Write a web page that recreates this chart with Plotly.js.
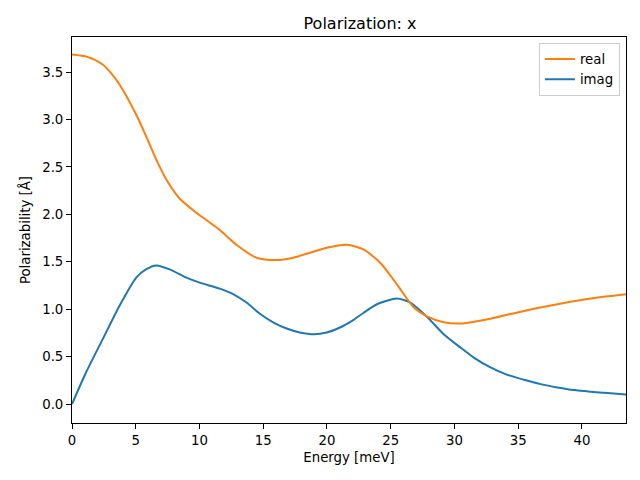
<!DOCTYPE html>
<html>
<head>
<meta charset="utf-8">
<script src="https://cdn.plot.ly/plotly-3.0.1.min.js"></script>
<style>html,body{margin:0;padding:0;background:#fff;}</style>
</head>
<body>
<div id="chart" style="width:640px;height:480px;"></div>
<script>
const realEnergy = [0, 1.2, 2.41, 3.3, 3.98, 5.04, 5.82, 6.61, 7.40, 8.44, 9.76, 11.59, 12.90, 14.48, 16.05, 17.36, 18.67, 19.98, 21.56, 22.86, 24.18, 25.49, 26.80, 27.85, 29.16, 30.47, 32.83, 35.45, 38.08, 40.70, 43.46];
const realValues = [3.685, 3.66, 3.58, 3.45, 3.314, 3.05, 2.822, 2.577, 2.367, 2.167, 2.017, 1.835, 1.68, 1.543, 1.518, 1.543, 1.595, 1.648, 1.68, 1.63, 1.49, 1.262, 1.02, 0.925, 0.862, 0.849, 0.90, 0.982, 1.052, 1.112, 1.157];
const imagEnergy = [0, 1.10, 2.41, 3.72, 5.04, 5.8, 6.61, 7.66, 8.97, 10.02, 11.59, 12.64, 13.69, 14.74, 15.78, 16.84, 17.88, 19.0, 19.98, 21.03, 22.0, 22.86, 23.92, 25.49, 26.54, 27.2, 28.0, 29.16, 30.47, 31.52, 32.83, 34.15, 35.45, 36.77, 38.08, 39.39, 40.70, 42.01, 43.46];
const imagValues = [0, 0.333, 0.684, 1.034, 1.333, 1.42, 1.462, 1.42, 1.333, 1.28, 1.217, 1.16, 1.07, 0.952, 0.862, 0.796, 0.754, 0.735, 0.754, 0.807, 0.88, 0.96, 1.052, 1.112, 1.07, 1.0, 0.9, 0.736, 0.596, 0.49, 0.386, 0.308, 0.256, 0.21, 0.175, 0.147, 0.13, 0.116, 0.10];
const xTicks = [0, 5, 10, 15, 20, 25, 30, 35, 40];
const yTicks = [0, 0.5, 1, 1.5, 2, 2.5, 3, 3.5];

const font = "DejaVu Sans, sans-serif";
const traces = [
  {x: imagEnergy, y: imagValues, name: 'imag', mode: 'lines', legendrank: 2,
   line: {color: '#1f77b4', width: 2, shape: 'spline', smoothing: 0.7}},
  {x: realEnergy, y: realValues, name: 'real', mode: 'lines', legendrank: 1,
   line: {color: '#ff7f0e', width: 2, shape: 'spline', smoothing: 0.7}}
];
const axisCommon = {
  showline: true, mirror: true, linecolor: '#000', linewidth: 1,
  ticks: 'outside', ticklen: 5, tickwidth: 1, tickcolor: '#000',
  showgrid: false, zeroline: false,
  tickfont: {family: font, size: 13.3, color: '#000'}
};
const layout = {
  width: 640, height: 480,
  margin: {l: 72, r: 14, t: 37, b: 57},
  paper_bgcolor: '#fff', plot_bgcolor: '#fff',
  font: {family: font, color: '#000'},
  title: {text: 'Polarization: x', font: {family: font, size: 16, color: '#000'},
          x: 0.5625, xanchor: 'center', y: 0.952, yanchor: 'middle'},
  xaxis: Object.assign({}, axisCommon, {
    range: [0, 43.46], tickvals: xTicks, ticktext: xTicks.map(String),
    title: {text: 'Energy [meV]', font: {family: font, size: 13.3, color: '#000'}, standoff: 5}
  }),
  yaxis: Object.assign({}, axisCommon, {
    range: [-0.2, 3.87], tickvals: yTicks, ticktext: yTicks.map(v => v.toFixed(1)),
    title: {text: 'Polarizability [Å]', font: {family: font, size: 13.3, color: '#000'}, standoff: 8}
  }),
  showlegend: true,
  legend: {x: 0.989, xanchor: 'right', y: 0.985, yanchor: 'top',
           bgcolor: 'rgba(255,255,255,0.8)', bordercolor: '#cccccc', borderwidth: 1,
           font: {family: font, size: 13.3, color: '#000'}, tracegroupgap: 0}
};
Plotly.newPlot('chart', traces, layout, {staticPlot: true, displayModeBar: false});
</script>
</body>
</html>
